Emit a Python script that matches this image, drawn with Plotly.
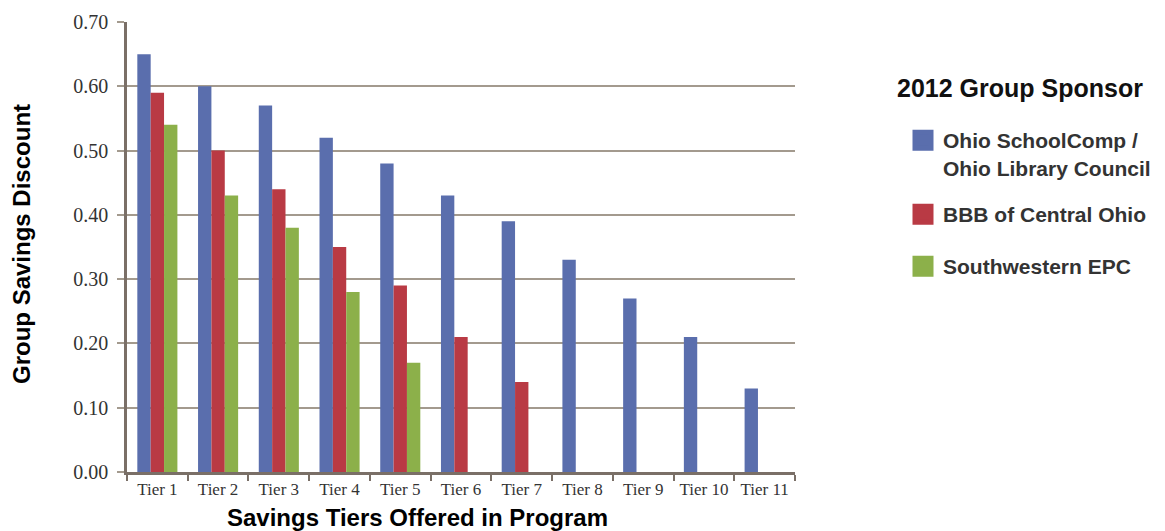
import plotly.graph_objects as go

# Savings tiers and discount levels for each 2012 group sponsor
tiers = ["Tier 1", "Tier 2", "Tier 3", "Tier 4", "Tier 5", "Tier 6",
         "Tier 7", "Tier 8", "Tier 9", "Tier 10", "Tier 11"]
ohio_schoolcomp = [0.65, 0.60, 0.57, 0.52, 0.48, 0.43, 0.39, 0.33, 0.27, 0.21, 0.13]
bbb_central_ohio = [0.59, 0.50, 0.44, 0.35, 0.29, 0.21, 0.14, None, None, None, None]
southwestern_epc = [0.54, 0.43, 0.38, 0.28, 0.17, None, None, None, None, None, None]

series_names = ["Ohio SchoolComp /<br>Ohio Library Council",
                "BBB of Central Ohio",
                "Southwestern EPC"]
series_values = [ohio_schoolcomp, bbb_central_ohio, southwestern_epc]
series_colors = ["#5a6ead", "#b93a44", "#8cb04a"]

y_ticks = [0.0, 0.1, 0.2, 0.3, 0.4, 0.5, 0.6, 0.7]
y_tick_text = ["0.00", "0.10", "0.20", "0.30", "0.40", "0.50", "0.60", "0.70"]

AXIS_COLOR = "#7a6f67"
GRID_COLOR = "#a39a8e"
SANS = "Liberation Sans, Arial, sans-serif"
SERIF = "Liberation Serif, Times New Roman, serif"

# plot area in pixels: x 127..795, y 22..472
PX_L, PX_R, PX_T, PX_B = 127, 795, 22, 472


def paper_x(px):
    return (px - PX_L) / (PX_R - PX_L)


def paper_y(py):
    return (PX_B - py) / (PX_B - PX_T)


fig = go.Figure()

for name, vals, color in zip(series_names, series_values, series_colors):
    fig.add_trace(go.Bar(
        x=tiers, y=vals, name=name,
        marker=dict(color=color, line=dict(width=0)),
        showlegend=False,
    ))

# One legend box per sponsor so each entry sits at its own height
legend_ids = ["legend", "legend2", "legend3"]
legend_tops = [120, 194, 246]
for name, color, lid in zip(series_names, series_colors, legend_ids):
    fig.add_trace(go.Scatter(
        x=[None], y=[None], mode="markers", name=name, legend=lid,
        marker=dict(symbol="square", size=16, color=color,
                    line=dict(width=5, color=color)),
    ))

legend_style = dict(
    x=paper_x(903), xanchor="left", yanchor="top",
    font=dict(family=SANS, size=21, color="#333333", weight="bold"),
    valign="top", itemsizing="trace", bgcolor="rgba(0,0,0,0)",
)

fig.update_layout(
    width=1165, height=531,
    margin=dict(l=PX_L, r=1165 - PX_R, t=PX_T, b=531 - PX_B, autoexpand=False),
    paper_bgcolor="white", plot_bgcolor="white",
    barmode="group", bargap=0.34, bargroupgap=0,
    legend=dict(y=paper_y(legend_tops[0]), **legend_style),
    legend2=dict(y=paper_y(legend_tops[1]), **legend_style),
    legend3=dict(y=paper_y(legend_tops[2]), **legend_style),
    xaxis=dict(
        type="category", showgrid=False,
        showline=True, linecolor=AXIS_COLOR, linewidth=2.5,
        ticks="outside", ticklen=6, tickwidth=2, tickcolor=AXIS_COLOR,
        tickson="boundaries",
        tickfont=dict(family=SERIF, size=17, color="#333333"),
        range=[-0.5, 10.5],
    ),
    yaxis=dict(
        range=[0, 0.7], tickvals=y_ticks, ticktext=y_tick_text,
        showgrid=True, gridcolor=GRID_COLOR, gridwidth=2,
        showline=True, linecolor=AXIS_COLOR, linewidth=2.5,
        ticks="outside", ticklen=7, tickwidth=2, tickcolor=GRID_COLOR,
        ticklabelstandoff=5,
        tickfont=dict(family=SERIF, size=20, color="#333333"),
        zeroline=False,
    ),
    annotations=[
        dict(text="<b>2012 Group Sponsor</b>",
             xref="paper", yref="paper", x=paper_x(895), y=paper_y(88),
             xanchor="left", yanchor="middle", showarrow=False,
             font=dict(family=SANS, size=25, color="#111111")),
        dict(text="<b>Savings Tiers Offered in Program</b>",
             xref="paper", yref="paper", x=paper_x(417), y=0,
             xanchor="center", yanchor="middle", yshift=-45,
             showarrow=False,
             font=dict(family=SANS, size=24, color="#000000")),
        dict(text="<b>Group Savings Discount</b>",
             xref="paper", yref="paper", x=0, y=paper_y(244),
             xshift=-105,
             xanchor="center", yanchor="middle", textangle=-90,
             showarrow=False,
             font=dict(family=SANS, size=24, color="#000000")),
    ],
)

fig.write_html("out.html")
